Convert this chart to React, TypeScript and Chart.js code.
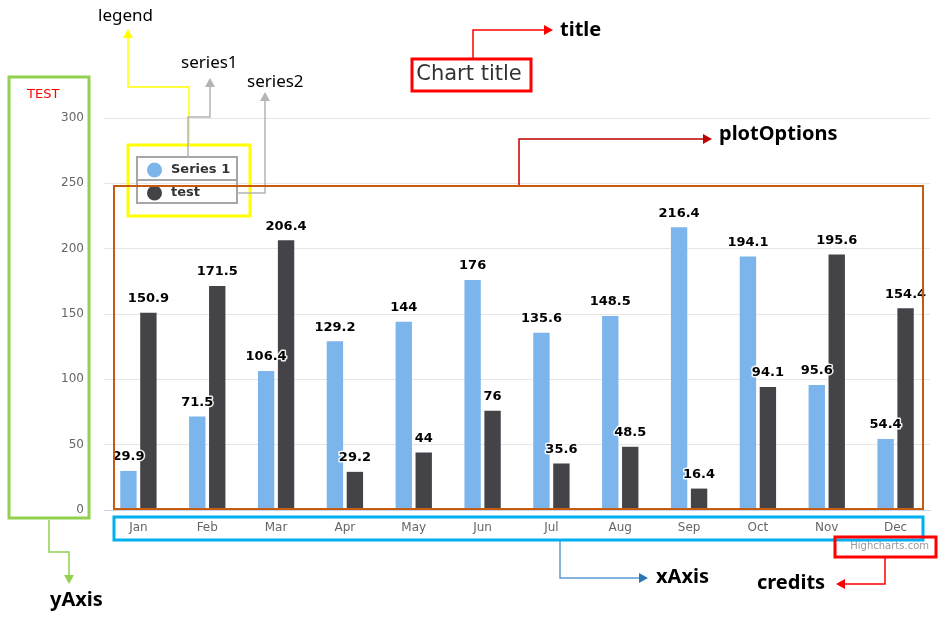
import React, { useEffect, useRef } from "react";
import { Chart, registerables } from "chart.js";

Chart.register(...registerables);

const categories = ["Jan", "Feb", "Mar", "Apr", "May", "Jun", "Jul", "Aug", "Sep", "Oct", "Nov", "Dec"];
const series1Values = [29.9, 71.5, 106.4, 129.2, 144, 176, 135.6, 148.5, 216.4, 194.1, 95.6, 54.4];
const series2Values = [150.9, 171.5, 206.4, 29.2, 44, 76, 35.6, 48.5, 16.4, 94.1, 195.6, 154.4];
const seriesNames = ["Series 1", "test"];
const seriesColors = ["#7cb5ec", "#434348"];
const yMin = 0;
const yMax = 300;
const yStep = 50;
const chartTitle = "Chart title";
const yAxisTitle = "TEST";
const creditsText = "Highcharts.com";

const CHART_FONT = "'DejaVu Sans', sans-serif";
const NOTE_FONT = "'Noto Sans', sans-serif";

type Pt = [number, number];

function polyline(ctx: CanvasRenderingContext2D, pts: Pt[], color: string, width = 1.5) {
  ctx.save();
  ctx.strokeStyle = color;
  ctx.lineWidth = width;
  ctx.beginPath();
  ctx.moveTo(pts[0][0], pts[0][1]);
  for (let i = 1; i < pts.length; i++) ctx.lineTo(pts[i][0], pts[i][1]);
  ctx.stroke();
  ctx.restore();
}

function arrowHead(ctx: CanvasRenderingContext2D, x: number, y: number, dir: "up" | "down" | "left" | "right", color: string) {
  const L = 9;
  const W = 5;
  ctx.save();
  ctx.fillStyle = color;
  ctx.beginPath();
  if (dir === "up") {
    ctx.moveTo(x, y); ctx.lineTo(x - W, y + L); ctx.lineTo(x + W, y + L);
  } else if (dir === "down") {
    ctx.moveTo(x, y); ctx.lineTo(x - W, y - L); ctx.lineTo(x + W, y - L);
  } else if (dir === "right") {
    ctx.moveTo(x, y); ctx.lineTo(x - L, y - W); ctx.lineTo(x - L, y + W);
  } else {
    ctx.moveTo(x, y); ctx.lineTo(x + L, y - W); ctx.lineTo(x + L, y + W);
  }
  ctx.closePath();
  ctx.fill();
  ctx.restore();
}

function box(ctx: CanvasRenderingContext2D, x1: number, y1: number, x2: number, y2: number, color: string, width: number) {
  ctx.save();
  ctx.strokeStyle = color;
  ctx.lineWidth = width;
  ctx.strokeRect(x1, y1, x2 - x1, y2 - y1);
  ctx.restore();
}

function label(ctx: CanvasRenderingContext2D, text: string, x: number, y: number, font: string, color = "#000", align: CanvasTextAlign = "left") {
  ctx.save();
  ctx.font = font;
  ctx.fillStyle = color;
  ctx.textAlign = align;
  ctx.textBaseline = "middle";
  ctx.fillText(text, x, y);
  ctx.restore();
}

const dataLabelPlugin = {
  id: "dataLabels",
  afterDatasetsDraw(chart: any) {
    const ctx: CanvasRenderingContext2D = chart.ctx;
    ctx.save();
    ctx.font = `bold 13px ${CHART_FONT}`;
    ctx.textAlign = "center";
    ctx.textBaseline = "middle";
    ctx.lineJoin = "round";
    chart.data.datasets.forEach((ds: any, di: number) => {
      const meta = chart.getDatasetMeta(di);
      meta.data.forEach((el: any, i: number) => {
        const txt = String(ds.data[i]);
        const y = el.y - 14;
        ctx.strokeStyle = "rgba(255,255,255,0.9)";
        ctx.lineWidth = 3;
        ctx.strokeText(txt, el.x, y);
        ctx.fillStyle = "#000";
        ctx.fillText(txt, el.x, y);
      });
    });
    ctx.restore();
  },
};

const decorPlugin = {
  id: "decor",
  afterDraw(chart: any) {
    const ctx: CanvasRenderingContext2D = chart.ctx;

    // chart title
    label(ctx, chartTitle, 469, 75, `21px ${CHART_FONT}`, "#333333", "center");
    // y axis title
    label(ctx, yAxisTitle, 27, 95, `13px ${CHART_FONT}`, "#ff0000");
    // credits
    label(ctx, creditsText, 929, 546, `10px ${CHART_FONT}`, "#999999", "right");

    // legend
    box(ctx, 137, 157, 237, 203, "#a6a6a6", 2);
    polyline(ctx, [[137, 180], [237, 180]], "#a6a6a6", 2);
    const rows = [170, 193];
    seriesNames.forEach((n, i) => {
      ctx.save();
      ctx.fillStyle = seriesColors[i];
      ctx.beginPath();
      ctx.arc(154.5, rows[i], 7.5, 0, Math.PI * 2);
      ctx.fill();
      ctx.restore();
      label(ctx, n, 171, rows[i], `bold 13px ${CHART_FONT}`, "#333333");
    });

    // yAxis annotation (green)
    box(ctx, 9, 77, 89, 518, "#92d050", 3);
    polyline(ctx, [[49, 520], [49, 552], [69, 552], [69, 577]], "#92d050", 1.5);
    arrowHead(ctx, 69, 584, "down", "#92d050");
    label(ctx, "yAxis", 50, 600, `bold 20px ${NOTE_FONT}`);

    // legend annotation (yellow)
    box(ctx, 128, 145, 250, 216, "#ffff00", 3);
    polyline(ctx, [[189, 144], [189, 87], [128, 87], [128, 36]], "#ffff00", 1.5);
    arrowHead(ctx, 128, 29, "up", "#ffff00");
    label(ctx, "legend", 98, 16, `17px ${NOTE_FONT}`);

    // series1 / series2 annotation (grey)
    polyline(ctx, [[188, 157], [188, 117], [210, 117], [210, 86]], "#b4b4b4", 1.5);
    arrowHead(ctx, 210, 78, "up", "#b4b4b4");
    label(ctx, "series1", 181, 63, `17px ${NOTE_FONT}`);
    polyline(ctx, [[237, 193], [265, 193], [265, 100]], "#b4b4b4", 1.5);
    arrowHead(ctx, 265, 92, "up", "#b4b4b4");
    label(ctx, "series2", 247, 82, `17px ${NOTE_FONT}`);

    // title annotation (red)
    box(ctx, 412, 59, 531, 91, "#ff0000", 3);
    polyline(ctx, [[473, 58], [473, 30], [546, 30]], "#ff0000", 1.5);
    arrowHead(ctx, 553, 30, "right", "#ff0000");
    label(ctx, "title", 560, 30, `bold 20px ${NOTE_FONT}`);

    // plotOptions annotation (orange)
    box(ctx, 114, 186, 923, 509, "#c55a11", 2);
    polyline(ctx, [[519, 185], [519, 139], [704, 139]], "#c00000", 1.5);
    arrowHead(ctx, 712, 139, "right", "#c00000");
    label(ctx, "plotOptions", 719, 134, `bold 20px ${NOTE_FONT}`);

    // xAxis annotation (blue)
    box(ctx, 114, 517, 923, 540, "#00b0f0", 3);
    polyline(ctx, [[560, 541], [560, 578], [640, 578]], "#5b9bd5", 1.5);
    arrowHead(ctx, 648, 578, "right", "#2e75b6");
    label(ctx, "xAxis", 656, 577, `bold 20px ${NOTE_FONT}`);

    // credits annotation (red)
    box(ctx, 835, 537, 936, 557, "#ff0000", 3);
    polyline(ctx, [[885, 558], [885, 584], [844, 584]], "#ff0000", 1.5);
    arrowHead(ctx, 836, 584, "left", "#ff0000");
    label(ctx, "credits", 757, 583, `bold 20px ${NOTE_FONT}`);
  },
};

export default function App() {
  const ref = useRef<HTMLCanvasElement | null>(null);

  useEffect(() => {
    if (!ref.current) return;
    Chart.defaults.font.family = CHART_FONT;
    const chart = new Chart(ref.current, {
      type: "bar",
      data: {
        labels: categories,
        datasets: [
          {
            label: seriesNames[0],
            data: series1Values,
            backgroundColor: seriesColors[0],
            borderWidth: 0,
            barPercentage: 0.82,
            categoryPercentage: 0.58,
          },
          {
            label: seriesNames[1],
            data: series2Values,
            backgroundColor: seriesColors[1],
            borderWidth: 0,
            barPercentage: 0.82,
            categoryPercentage: 0.58,
          },
        ],
      },
      options: {
        responsive: false,
        animation: false,
        devicePixelRatio: 1,
        layout: { padding: { left: 0, right: 17, top: 118, bottom: 77 } },
        plugins: {
          legend: { display: false },
          title: { display: false },
          tooltip: { enabled: false },
        },
        scales: {
          x: {
            grid: { display: false },
            border: { display: true, color: "#ccd6eb", width: 1 },
            ticks: { color: "#666666", font: { size: 12, family: CHART_FONT }, padding: 3 },
            afterFit: (s: any) => { s.height = 30; },
          },
          y: {
            min: yMin,
            max: yMax,
            grid: { color: "#e6e6e6", drawTicks: false },
            border: { display: false },
            ticks: { stepSize: yStep, color: "#666666", font: { size: 12, family: CHART_FONT }, padding: 20 },
            afterFit: (s: any) => { s.width = 104; },
          },
        },
      },
      plugins: [dataLabelPlugin, decorPlugin],
    });
    return () => chart.destroy();
  }, []);

  return (
    <div style={{ position: "absolute", left: 0, top: 0, width: 947, height: 617, background: "#fff" }}>
      <canvas ref={ref} width={947} height={617} style={{ width: 947, height: 617, display: "block" }} />
    </div>
  );
}
